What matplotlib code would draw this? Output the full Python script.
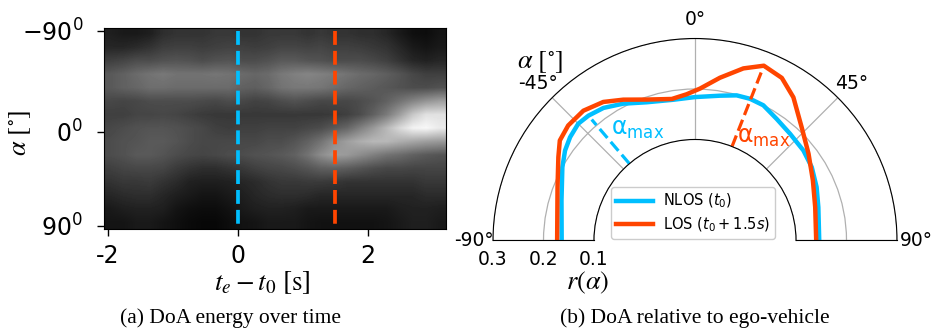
import numpy as np
import matplotlib.pyplot as plt

# (a) DoA energy over time: rows = angle bins (top -90 .. bottom 90), cols = time bins
t_range = [-2.06, 3.2]
alpha_tick_rows = [0, 15, 29]
alpha_tick_labels = [r"$-90^0$", r"$0^0$", r"$90^0$"]
time_ticks = [-2, 0, 2]
doa_energy = [
    [0.12, 0.10, 0.10, 0.12, 0.18, 0.20, 0.20, 0.20, 0.22, 0.22, 0.20, 0.20, 0.22, 0.22, 0.22, 0.20, 0.22, 0.20, 0.20, 0.18, 0.18, 0.15, 0.10, 0.06, 0.05, 0.08],
    [0.15, 0.15, 0.17, 0.20, 0.24, 0.25, 0.25, 0.24, 0.25, 0.26, 0.25, 0.24, 0.25, 0.27, 0.27, 0.26, 0.27, 0.25, 0.25, 0.24, 0.22, 0.20, 0.15, 0.10, 0.08, 0.10],
    [0.25, 0.27, 0.30, 0.30, 0.32, 0.33, 0.32, 0.30, 0.32, 0.33, 0.30, 0.30, 0.32, 0.35, 0.35, 0.33, 0.32, 0.30, 0.30, 0.30, 0.28, 0.25, 0.20, 0.15, 0.13, 0.15],
    [0.35, 0.38, 0.42, 0.45, 0.47, 0.45, 0.45, 0.45, 0.46, 0.45, 0.42, 0.40, 0.42, 0.47, 0.50, 0.52, 0.50, 0.48, 0.45, 0.42, 0.40, 0.37, 0.33, 0.28, 0.25, 0.25],
    [0.35, 0.38, 0.40, 0.43, 0.43, 0.42, 0.42, 0.42, 0.42, 0.42, 0.38, 0.37, 0.40, 0.45, 0.47, 0.47, 0.46, 0.43, 0.40, 0.38, 0.36, 0.34, 0.32, 0.30, 0.30, 0.32],
    [0.28, 0.27, 0.28, 0.30, 0.30, 0.30, 0.30, 0.29, 0.28, 0.30, 0.28, 0.26, 0.27, 0.30, 0.32, 0.30, 0.28, 0.28, 0.28, 0.30, 0.33, 0.38, 0.45, 0.52, 0.58, 0.62],
    [0.25, 0.25, 0.27, 0.27, 0.28, 0.27, 0.25, 0.23, 0.22, 0.22, 0.22, 0.22, 0.22, 0.22, 0.22, 0.22, 0.22, 0.23, 0.25, 0.30, 0.38, 0.48, 0.62, 0.78, 0.88, 0.88],
    [0.28, 0.30, 0.32, 0.33, 0.33, 0.32, 0.30, 0.28, 0.25, 0.24, 0.25, 0.25, 0.26, 0.26, 0.26, 0.28, 0.30, 0.35, 0.40, 0.50, 0.60, 0.72, 0.85, 0.95, 0.97, 0.92],
    [0.30, 0.32, 0.33, 0.35, 0.35, 0.33, 0.30, 0.28, 0.28, 0.28, 0.28, 0.28, 0.30, 0.30, 0.33, 0.38, 0.45, 0.55, 0.62, 0.68, 0.72, 0.72, 0.68, 0.65, 0.62, 0.60],
    [0.30, 0.32, 0.35, 0.35, 0.33, 0.30, 0.28, 0.27, 0.28, 0.30, 0.30, 0.32, 0.33, 0.35, 0.38, 0.45, 0.55, 0.62, 0.60, 0.55, 0.50, 0.45, 0.42, 0.38, 0.35, 0.33],
    [0.25, 0.27, 0.28, 0.28, 0.27, 0.23, 0.20, 0.18, 0.18, 0.20, 0.22, 0.25, 0.27, 0.28, 0.30, 0.33, 0.37, 0.38, 0.36, 0.33, 0.30, 0.28, 0.28, 0.27, 0.27, 0.27],
    [0.20, 0.22, 0.22, 0.23, 0.20, 0.17, 0.13, 0.12, 0.12, 0.13, 0.15, 0.17, 0.20, 0.22, 0.22, 0.23, 0.23, 0.22, 0.20, 0.20, 0.20, 0.20, 0.20, 0.20, 0.22, 0.22],
    [0.15, 0.17, 0.18, 0.18, 0.15, 0.12, 0.10, 0.08, 0.08, 0.10, 0.12, 0.15, 0.17, 0.18, 0.18, 0.17, 0.15, 0.15, 0.15, 0.15, 0.15, 0.15, 0.15, 0.15, 0.17, 0.17],
    [0.10, 0.12, 0.13, 0.13, 0.12, 0.08, 0.06, 0.05, 0.05, 0.07, 0.10, 0.12, 0.13, 0.13, 0.12, 0.10, 0.10, 0.10, 0.10, 0.10, 0.10, 0.10, 0.12, 0.13, 0.13, 0.12],
    [0.08, 0.08, 0.10, 0.10, 0.08, 0.06, 0.04, 0.03, 0.03, 0.05, 0.07, 0.08, 0.10, 0.10, 0.10, 0.08, 0.07, 0.07, 0.07, 0.07, 0.07, 0.08, 0.10, 0.12, 0.12, 0.10],
]
t_nlos = 0.0
t_los = 1.5

# (b) DoA relative to ego-vehicle
nlos_theta = [-90, -73.3, -61.1, -55.3, -50.4, -45, -40.5, -34.6, -27.7, -19.3, -8.8, 0,
              9.8, 16, 21.2, 26.8, 33.9, 41.7, 50.3, 57.9, 66.3, 74.9, 90]
nlos_r = [0.164, 0.176, 0.200, 0.213, 0.221, 0.227, 0.225, 0.219, 0.206, 0.190, 0.182, 0.184,
          0.191, 0.199, 0.201, 0.200, 0.190, 0.183, 0.179, 0.173, 0.163, 0.153, 0.146]
los_theta = [-90, -68.8, -58.6, -53.5, -47.8, -40.7, -33.5, -27, -18.9, -9.3, -3.3, 1.9,
             8.7, 15.7, 21.5, 28.1, 34.5, 43.3, 52.6, 63, 74.5, 90]
los_r = [0.173, 0.192, 0.217, 0.233, 0.239, 0.239, 0.229, 0.213, 0.195, 0.184, 0.190, 0.201,
         0.226, 0.254, 0.272, 0.265, 0.244, 0.208, 0.183, 0.162, 0.147, 0.140]
nlos_amax = -40.5
los_amax = 21.5
r_ticks = [0.1, 0.2, 0.3]
theta_ticks = [-90, -45, 0, 45, 90]

blue = '#00BFFF'
orange = '#FF4500'

fig = plt.figure(figsize=(9.36, 3.32), dpi=100)

# ---- left panel: heatmap
ax1 = fig.add_axes([104 / 936, 1 - 229 / 332, 342 / 936, 201.5 / 332])
ax1.imshow(np.array(doa_energy), cmap='gray', vmin=0, vmax=1, aspect='auto',
           interpolation='bilinear',
           extent=[t_range[0], t_range[1], alpha_tick_rows[-1] + 0.5, -0.5])
ax1.plot([t_nlos, t_nlos], [alpha_tick_rows[0], alpha_tick_rows[-1]], '--', color=blue, lw=2.7)
ax1.plot([t_los, t_los], [alpha_tick_rows[0], alpha_tick_rows[-1]], '--', color=orange, lw=2.7)
ax1.set_xlim(t_range)
ax1.set_ylim(alpha_tick_rows[-1] + 0.5, -0.5)
ax1.set_xticks(time_ticks)
ax1.set_xticklabels([str(t) for t in time_ticks])
ax1.set_yticks(alpha_tick_rows)
ax1.set_yticklabels(alpha_tick_labels)
ax1.tick_params(labelsize=17, length=5, width=1)
ax1.tick_params(axis='y', pad=10)
ax1.tick_params(axis='x', pad=6)
fig.text(262 / 936, 1 - 283 / 332, r"$t_e - t_0\ [\mathrm{s}]$", fontsize=19.5,
         math_fontfamily='stix', ha='center', va='center')
fig.text(20 / 936, 1 - 133 / 332, r"$\alpha\ [^{\circ}]$", fontsize=19, rotation=90,
         math_fontfamily='stix', ha='center', va='center')

# ---- right panel: polar half-disc (square box, wedge centred in it)
ax2 = fig.add_axes([493 / 936, 1 - 341.5 / 332, 404 / 936, 404 / 332], projection='polar')
ax2.set_theta_zero_location('N')
ax2.set_theta_direction(-1)
ax2.set_thetamin(-90)
ax2.set_thetamax(90)
ax2.set_rorigin(-0.1)
ax2.set_ylim(0.1, 0.3)

ax2.plot(np.radians(nlos_theta), nlos_r, color=blue, lw=3.2, label=r"NLOS ($t_0$)")
ax2.plot(np.radians(los_theta), los_r, color=orange, lw=3.2, label=r"LOS ($t_0 + 1.5s$)")
ax2.plot(np.radians([nlos_amax, nlos_amax]), [0.1, np.interp(nlos_amax, nlos_theta, nlos_r) - 0.01],
         '--', color=blue, lw=2.3)
ax2.plot(np.radians([los_amax, los_amax]), [0.1, np.interp(los_amax, los_theta, los_r)],
         '--', color=orange, lw=2.3)

ax2.set_xticks(np.radians(theta_ticks))
ax2.set_xticklabels([f"{t}°" for t in theta_ticks])
ax2.set_yticks(r_ticks)
ax2.set_yticklabels([str(r) for r in r_ticks])
ax2.tick_params(labelsize=13.5)
ax2.grid(True, color='#b0b0b0', lw=0.9)
ax2.spines['start'].set_visible(False)
ax2.spines['end'].set_visible(False)

ax2.legend(loc='lower left', bbox_to_anchor=(611 / 936, 1 - 239 / 332),
           bbox_transform=fig.transFigure, borderaxespad=0, fontsize=10.5,
           handlelength=2.5, handletextpad=0.7, labelspacing=0.35, borderpad=0.35,
           framealpha=1, edgecolor='#cccccc')

fig.text(638 / 936, 1 - 129 / 332, r"$\mathrm{\alpha_{max}}$", color=blue, fontsize=17,
         ha='center', va='center')
fig.text(764 / 936, 1 - 137 / 332, r"$\mathrm{\alpha_{max}}$", color=orange, fontsize=17,
         ha='center', va='center')
fig.text(540 / 936, 1 - 62 / 332, r"$\alpha\ [^{\circ}]$", fontsize=19, math_fontfamily='stix',
         ha='center', va='center')
fig.text(588 / 936, 1 - 283 / 332, r"$r(\alpha)$", fontsize=19, math_fontfamily='stix',
         ha='center', va='center')

# captions
fig.text(230 / 936, 1 - 318 / 332, "(a) DoA energy over time", fontsize=15.5,
         family='Liberation Serif', ha='center', va='center')
fig.text(695 / 936, 1 - 318 / 332, "(b) DoA relative to ego-vehicle", fontsize=15.5,
         family='Liberation Serif', ha='center', va='center')

fig.savefig('out.png', dpi=100)
